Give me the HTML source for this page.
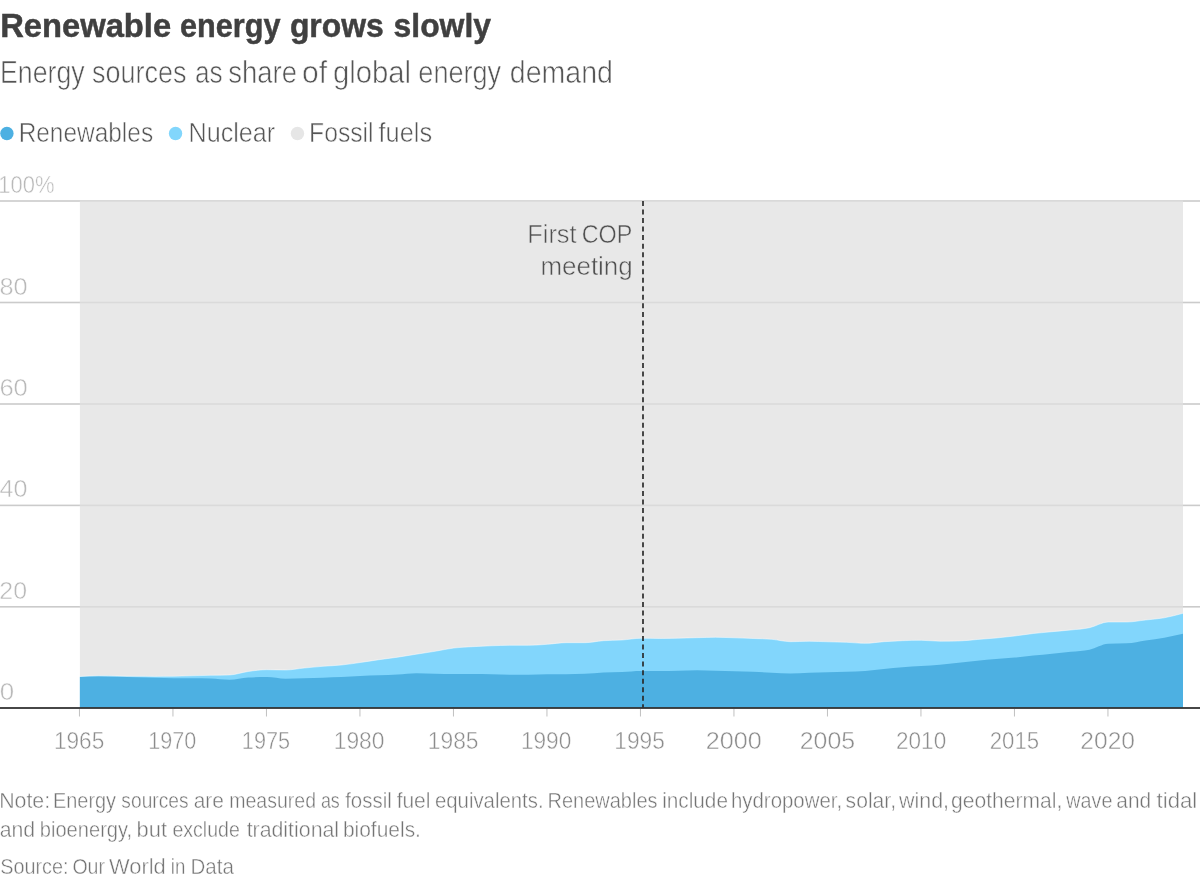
<!DOCTYPE html>
<html><head><meta charset="utf-8"><title>Renewable energy grows slowly</title>
<style>
html,body{margin:0;padding:0;background:#fff;}
body{width:1200px;height:879px;position:relative;overflow:hidden;}
svg{position:absolute;left:0;top:0;display:block;}
text{font-family:"Liberation Sans",Arial,sans-serif;}
</style></head><body>
<svg width="1200" height="879" viewBox="0 0 1200 879">
<g id="chart">
<rect x="0" y="200.2" width="1200" height="1.6" fill="#cbcbcb"/><rect x="0" y="301.7" width="1200" height="1.6" fill="#cbcbcb"/><rect x="0" y="403.2" width="1200" height="1.6" fill="#cbcbcb"/><rect x="0" y="504.6" width="1200" height="1.6" fill="#cbcbcb"/><rect x="0" y="606.0" width="1200" height="1.6" fill="#cbcbcb"/>
<rect x="79.9" y="201.0" width="1103.1" height="507.0" fill="#e8e8e8"/>
<rect x="79.9" y="200.2" width="1103.1" height="1.6" fill="#dadada"/><rect x="79.9" y="301.7" width="1103.1" height="1.6" fill="#dadada"/><rect x="79.9" y="403.2" width="1103.1" height="1.6" fill="#dadada"/><rect x="79.9" y="504.6" width="1103.1" height="1.6" fill="#dadada"/><rect x="79.9" y="606.0" width="1103.1" height="1.6" fill="#dadada"/>
<path d="M79.9,676.50C86.1,676.15 92.4,675.80 98.6,675.80C104.8,675.80 111.1,675.92 117.3,676.00C123.5,676.08 129.8,676.23 136.0,676.30C142.2,676.37 148.5,676.40 154.7,676.40C160.9,676.40 167.2,676.37 173.4,676.30C179.6,676.23 185.8,675.97 192.1,675.80C198.3,675.63 204.5,675.43 210.8,675.30C217.0,675.17 223.2,675.20 229.5,675.00C235.7,674.80 241.9,672.38 248.2,671.50C254.4,670.62 260.6,669.70 266.9,669.70C273.1,669.70 279.3,670.00 285.6,670.00C291.8,670.00 298.0,668.62 304.3,668.00C310.5,667.38 316.7,666.80 323.0,666.30C329.2,665.80 335.4,665.63 341.7,665.00C347.9,664.37 354.1,663.38 360.3,662.50C366.6,661.62 372.8,660.58 379.0,659.70C385.3,658.82 391.5,658.12 397.7,657.20C404.0,656.28 410.2,655.18 416.4,654.20C422.7,653.22 428.9,652.33 435.1,651.30C441.4,650.27 447.6,648.77 453.8,648.00C460.1,647.23 466.3,647.07 472.5,646.70C478.8,646.33 485.0,646.03 491.2,645.80C497.5,645.57 503.7,645.30 509.9,645.30C516.2,645.30 522.4,645.30 528.6,645.30C534.9,645.30 541.1,644.73 547.3,644.30C553.5,643.87 559.8,642.70 566.0,642.70C572.2,642.70 578.5,642.70 584.7,642.70C590.9,642.70 597.2,641.15 603.4,640.70C609.6,640.25 615.9,640.40 622.1,640.00C628.3,639.60 634.6,638.30 640.8,638.30C647.0,638.30 653.3,638.50 659.5,638.50C665.7,638.50 672.0,638.33 678.2,638.20C684.4,638.07 690.7,637.85 696.9,637.70C703.1,637.55 709.4,637.30 715.6,637.30C721.8,637.30 728.0,637.60 734.3,637.80C740.5,638.00 746.7,638.25 753.0,638.50C759.2,638.75 765.4,638.77 771.7,639.30C777.9,639.83 784.1,641.70 790.4,641.70C796.6,641.70 802.8,641.30 809.1,641.30C815.3,641.30 821.5,641.63 827.8,641.80C834.0,641.97 840.2,642.05 846.5,642.30C852.7,642.55 858.9,643.30 865.2,643.30C871.4,643.30 877.6,642.13 883.9,641.70C890.1,641.27 896.3,640.93 902.6,640.70C908.8,640.47 915.0,640.30 921.2,640.30C927.5,640.30 933.7,641.20 939.9,641.20C946.2,641.20 952.4,641.13 958.6,641.00C964.9,640.87 971.1,640.00 977.3,639.50C983.6,639.00 989.8,638.58 996.0,638.00C1002.3,637.42 1008.5,636.75 1014.7,636.00C1021.0,635.25 1027.2,634.22 1033.4,633.50C1039.7,632.78 1045.9,632.28 1052.1,631.70C1058.4,631.12 1064.6,630.67 1070.8,630.00C1077.1,629.33 1083.3,629.03 1089.5,627.70C1095.7,626.37 1102.0,622.00 1108.2,622.00C1114.4,622.00 1120.7,622.00 1126.9,622.00C1133.1,622.00 1139.4,620.70 1145.6,620.00C1151.8,619.30 1158.1,618.92 1164.3,617.80C1170.5,616.68 1176.8,614.99 1183.0,613.30L1183.0,708.0L79.9,708.0Z" fill="#82d6fc"/>
<path d="M79.9,677.00C86.1,676.65 92.4,676.30 98.6,676.30C104.8,676.30 111.1,676.63 117.3,676.80C123.5,676.97 129.8,677.13 136.0,677.30C142.2,677.47 148.5,677.63 154.7,677.80C160.9,677.97 167.2,678.30 173.4,678.30C179.6,678.30 185.8,678.30 192.1,678.30C198.3,678.30 204.5,678.40 210.8,678.60C217.0,678.80 223.2,679.70 229.5,679.70C235.7,679.70 241.9,677.83 248.2,677.50C254.4,677.17 260.6,677.00 266.9,677.00C273.1,677.00 279.3,678.70 285.6,678.70C291.8,678.70 298.0,678.47 304.3,678.30C310.5,678.13 316.7,677.92 323.0,677.70C329.2,677.48 335.4,677.28 341.7,677.00C347.9,676.72 354.1,676.28 360.3,676.00C366.6,675.72 372.8,675.55 379.0,675.30C385.3,675.05 391.5,674.83 397.7,674.50C404.0,674.17 410.2,673.30 416.4,673.30C422.7,673.30 428.9,673.58 435.1,673.70C441.4,673.82 447.6,674.00 453.8,674.00C460.1,674.00 466.3,674.00 472.5,674.00C478.8,674.00 485.0,674.18 491.2,674.30C497.5,674.42 503.7,674.63 509.9,674.70C516.2,674.77 522.4,674.80 528.6,674.80C534.9,674.80 541.1,674.37 547.3,674.30C553.5,674.23 559.8,674.27 566.0,674.20C572.2,674.13 578.5,674.07 584.7,673.80C590.9,673.53 597.2,672.80 603.4,672.50C609.6,672.20 615.9,672.25 622.1,672.00C628.3,671.75 634.6,671.00 640.8,671.00C647.0,671.00 653.3,671.00 659.5,671.00C665.7,671.00 672.0,670.83 678.2,670.70C684.4,670.57 690.7,670.20 696.9,670.20C703.1,670.20 709.4,670.53 715.6,670.70C721.8,670.87 728.0,671.02 734.3,671.20C740.5,671.38 746.7,671.55 753.0,671.80C759.2,672.05 765.4,672.42 771.7,672.70C777.9,672.98 784.1,673.50 790.4,673.50C796.6,673.50 802.8,673.00 809.1,672.80C815.3,672.60 821.5,672.48 827.8,672.30C834.0,672.12 840.2,671.92 846.5,671.70C852.7,671.48 858.9,671.45 865.2,671.00C871.4,670.55 877.6,669.62 883.9,669.00C890.1,668.38 896.3,667.80 902.6,667.30C908.8,666.80 915.0,666.43 921.2,666.00C927.5,665.57 933.7,665.25 939.9,664.70C946.2,664.15 952.4,663.37 958.6,662.70C964.9,662.03 971.1,661.32 977.3,660.70C983.6,660.08 989.8,659.53 996.0,659.00C1002.3,658.47 1008.5,658.08 1014.7,657.50C1021.0,656.92 1027.2,656.13 1033.4,655.50C1039.7,654.87 1045.9,654.32 1052.1,653.70C1058.4,653.08 1064.6,652.47 1070.8,651.80C1077.1,651.13 1083.3,651.05 1089.5,649.70C1095.7,648.35 1102.0,643.97 1108.2,643.70C1114.4,643.43 1120.7,643.57 1126.9,643.30C1133.1,643.03 1139.4,641.43 1145.6,640.50C1151.8,639.57 1158.1,638.82 1164.3,637.70C1170.5,636.58 1176.8,635.19 1183.0,633.80L1183.0,708.0L79.9,708.0Z" fill="#4db0e2"/>
<path d="M79.9,676.50C86.1,676.15 92.4,675.80 98.6,675.80C104.8,675.80 111.1,675.92 117.3,676.00C123.5,676.08 129.8,676.23 136.0,676.30C142.2,676.37 148.5,676.40 154.7,676.40C160.9,676.40 167.2,676.37 173.4,676.30C179.6,676.23 185.8,675.97 192.1,675.80C198.3,675.63 204.5,675.43 210.8,675.30C217.0,675.17 223.2,675.20 229.5,675.00C235.7,674.80 241.9,672.38 248.2,671.50C254.4,670.62 260.6,669.70 266.9,669.70C273.1,669.70 279.3,670.00 285.6,670.00C291.8,670.00 298.0,668.62 304.3,668.00C310.5,667.38 316.7,666.80 323.0,666.30C329.2,665.80 335.4,665.63 341.7,665.00C347.9,664.37 354.1,663.38 360.3,662.50C366.6,661.62 372.8,660.58 379.0,659.70C385.3,658.82 391.5,658.12 397.7,657.20C404.0,656.28 410.2,655.18 416.4,654.20C422.7,653.22 428.9,652.33 435.1,651.30C441.4,650.27 447.6,648.77 453.8,648.00C460.1,647.23 466.3,647.07 472.5,646.70C478.8,646.33 485.0,646.03 491.2,645.80C497.5,645.57 503.7,645.30 509.9,645.30C516.2,645.30 522.4,645.30 528.6,645.30C534.9,645.30 541.1,644.73 547.3,644.30C553.5,643.87 559.8,642.70 566.0,642.70C572.2,642.70 578.5,642.70 584.7,642.70C590.9,642.70 597.2,641.15 603.4,640.70C609.6,640.25 615.9,640.40 622.1,640.00C628.3,639.60 634.6,638.30 640.8,638.30C647.0,638.30 653.3,638.50 659.5,638.50C665.7,638.50 672.0,638.33 678.2,638.20C684.4,638.07 690.7,637.85 696.9,637.70C703.1,637.55 709.4,637.30 715.6,637.30C721.8,637.30 728.0,637.60 734.3,637.80C740.5,638.00 746.7,638.25 753.0,638.50C759.2,638.75 765.4,638.77 771.7,639.30C777.9,639.83 784.1,641.70 790.4,641.70C796.6,641.70 802.8,641.30 809.1,641.30C815.3,641.30 821.5,641.63 827.8,641.80C834.0,641.97 840.2,642.05 846.5,642.30C852.7,642.55 858.9,643.30 865.2,643.30C871.4,643.30 877.6,642.13 883.9,641.70C890.1,641.27 896.3,640.93 902.6,640.70C908.8,640.47 915.0,640.30 921.2,640.30C927.5,640.30 933.7,641.20 939.9,641.20C946.2,641.20 952.4,641.13 958.6,641.00C964.9,640.87 971.1,640.00 977.3,639.50C983.6,639.00 989.8,638.58 996.0,638.00C1002.3,637.42 1008.5,636.75 1014.7,636.00C1021.0,635.25 1027.2,634.22 1033.4,633.50C1039.7,632.78 1045.9,632.28 1052.1,631.70C1058.4,631.12 1064.6,630.67 1070.8,630.00C1077.1,629.33 1083.3,629.03 1089.5,627.70C1095.7,626.37 1102.0,622.00 1108.2,622.00C1114.4,622.00 1120.7,622.00 1126.9,622.00C1133.1,622.00 1139.4,620.70 1145.6,620.00C1151.8,619.30 1158.1,618.92 1164.3,617.80C1170.5,616.68 1176.8,614.99 1183.0,613.30" fill="none" stroke="#fff" stroke-opacity="0.45" stroke-width="1"/>
<line x1="643" y1="201" x2="643" y2="708" stroke="#2b2b2b" stroke-width="1.7" stroke-dasharray="5 3.53"/>
<rect x="0" y="707.1" width="1200" height="1.8" fill="#333"/>
<rect x="78.95" y="709" width="1" height="7.5" fill="#c0c0c0"/><rect x="172.45" y="709" width="1" height="7.5" fill="#c0c0c0"/><rect x="265.95" y="709" width="1" height="7.5" fill="#c0c0c0"/><rect x="359.45" y="709" width="1" height="7.5" fill="#c0c0c0"/><rect x="452.95" y="709" width="1" height="7.5" fill="#c0c0c0"/><rect x="546.45" y="709" width="1" height="7.5" fill="#c0c0c0"/><rect x="639.95" y="709" width="1" height="7.5" fill="#c0c0c0"/><rect x="733.45" y="709" width="1" height="7.5" fill="#c0c0c0"/><rect x="826.95" y="709" width="1" height="7.5" fill="#c0c0c0"/><rect x="920.45" y="709" width="1" height="7.5" fill="#c0c0c0"/><rect x="1013.95" y="709" width="1" height="7.5" fill="#c0c0c0"/><rect x="1107.45" y="709" width="1" height="7.5" fill="#c0c0c0"/>
<circle cx="6.9" cy="133.5" r="6.7" fill="#4db0e2"/>
<circle cx="175.55" cy="133.5" r="6.7" fill="#82d6fc"/>
<circle cx="297.45" cy="133.5" r="6.7" fill="#e6e6e6"/>
</g>
<g id="labels">
<text id="title" y="37.00" font-size="33.6" font-weight="bold" fill="#404040" stroke="#404040" stroke-width="0.5"><tspan id="title_0" x="0.15" textLength="171.00" lengthAdjust="spacingAndGlyphs">Renewable</tspan> <tspan id="title_1" x="180.08" textLength="100.44" lengthAdjust="spacingAndGlyphs">energy</tspan> <tspan id="title_2" x="289.88" textLength="93.87" lengthAdjust="spacingAndGlyphs">grows</tspan> <tspan id="title_3" x="393.59" textLength="97.40" lengthAdjust="spacingAndGlyphs">slowly</tspan></text>
<text id="sub" y="83.35" font-size="31" font-weight="normal" fill="#555555" stroke="#fff" stroke-width="0.62"><tspan id="sub_0" x="0.02" textLength="84.57" lengthAdjust="spacingAndGlyphs">Energy</tspan> <tspan id="sub_1" x="92.11" textLength="94.33" lengthAdjust="spacingAndGlyphs">sources</tspan> <tspan id="sub_2" x="194.95" textLength="27.65" lengthAdjust="spacingAndGlyphs">as</tspan> <tspan id="sub_3" x="228.35" textLength="68.70" lengthAdjust="spacingAndGlyphs">share</tspan> <tspan id="sub_4" x="302.06" textLength="25.01" lengthAdjust="spacingAndGlyphs">of</tspan> <tspan id="sub_5" x="332.88" textLength="78.21" lengthAdjust="spacingAndGlyphs">global</tspan> <tspan id="sub_6" x="418.37" textLength="82.81" lengthAdjust="spacingAndGlyphs">energy</tspan> <tspan id="sub_7" x="509.80" textLength="103.13" lengthAdjust="spacingAndGlyphs">demand</tspan></text>
<text id="l1" y="142.10" font-size="26.8" font-weight="normal" fill="#555555" stroke="#fff" stroke-width="0.54"><tspan id="l1_0" x="18.64" textLength="134.48" lengthAdjust="spacingAndGlyphs">Renewables</tspan></text>
<text id="l2" y="142.10" font-size="26.8" font-weight="normal" fill="#555555" stroke="#fff" stroke-width="0.54"><tspan id="l2_0" x="188.46" textLength="86.74" lengthAdjust="spacingAndGlyphs">Nuclear</tspan></text>
<text id="l3" y="142.10" font-size="26.8" font-weight="normal" fill="#555555" stroke="#fff" stroke-width="0.54"><tspan id="l3_0" x="309.07" textLength="64.51" lengthAdjust="spacingAndGlyphs">Fossil</tspan> <tspan id="l3_1" x="378.50" textLength="53.56" lengthAdjust="spacingAndGlyphs">fuels</tspan></text>
<text id="y100" y="193.00" font-size="23.7" font-weight="normal" fill="#b9b9b9" stroke="#fff" stroke-width="0.47"><tspan id="y100_0" x="-1.70" textLength="56.24" lengthAdjust="spacingAndGlyphs">100%</tspan></text>
<text id="y80" y="294.50" font-size="23.7" font-weight="normal" fill="#b9b9b9" stroke="#fff" stroke-width="0.47"><tspan id="y80_0" x="-0.49" textLength="28.18" lengthAdjust="spacingAndGlyphs">80</tspan></text>
<text id="y60" y="396.00" font-size="23.7" font-weight="normal" fill="#b9b9b9" stroke="#fff" stroke-width="0.47"><tspan id="y60_0" x="-0.64" textLength="28.43" lengthAdjust="spacingAndGlyphs">60</tspan></text>
<text id="y40" y="497.40" font-size="23.7" font-weight="normal" fill="#b9b9b9" stroke="#fff" stroke-width="0.47"><tspan id="y40_0" x="-0.45" textLength="27.95" lengthAdjust="spacingAndGlyphs">40</tspan></text>
<text id="y20" y="598.80" font-size="23.7" font-weight="normal" fill="#b9b9b9" stroke="#fff" stroke-width="0.47"><tspan id="y20_0" x="-0.74" textLength="27.76" lengthAdjust="spacingAndGlyphs">20</tspan></text>
<text id="y0" y="700.05" font-size="23.7" font-weight="normal" fill="#b9b9b9" stroke="#fff" stroke-width="0.47"><tspan id="y0_0" x="-0.30" textLength="14.43" lengthAdjust="spacingAndGlyphs">0</tspan></text>
<text id="x1965" y="749.25" font-size="23.6" font-weight="normal" fill="#8c8c8c" stroke="#fff" stroke-width="0.47"><tspan id="x1965_0" x="53.90" textLength="50.42" lengthAdjust="spacingAndGlyphs">1965</tspan></text>
<text id="x1970" y="749.25" font-size="23.6" font-weight="normal" fill="#8c8c8c" stroke="#fff" stroke-width="0.47"><tspan id="x1970_0" x="148.26" textLength="47.97" lengthAdjust="spacingAndGlyphs">1970</tspan></text>
<text id="x1975" y="749.25" font-size="23.6" font-weight="normal" fill="#8c8c8c" stroke="#fff" stroke-width="0.47"><tspan id="x1975_0" x="241.86" textLength="48.26" lengthAdjust="spacingAndGlyphs">1975</tspan></text>
<text id="x1980" y="749.25" font-size="23.6" font-weight="normal" fill="#8c8c8c" stroke="#fff" stroke-width="0.47"><tspan id="x1980_0" x="333.76" textLength="50.75" lengthAdjust="spacingAndGlyphs">1980</tspan></text>
<text id="x1985" y="749.25" font-size="23.6" font-weight="normal" fill="#8c8c8c" stroke="#fff" stroke-width="0.47"><tspan id="x1985_0" x="427.81" textLength="50.71" lengthAdjust="spacingAndGlyphs">1985</tspan></text>
<text id="x1990" y="749.25" font-size="23.6" font-weight="normal" fill="#8c8c8c" stroke="#fff" stroke-width="0.47"><tspan id="x1990_0" x="520.89" textLength="50.37" lengthAdjust="spacingAndGlyphs">1990</tspan></text>
<text id="x1995" y="749.25" font-size="23.6" font-weight="normal" fill="#8c8c8c" stroke="#fff" stroke-width="0.47"><tspan id="x1995_0" x="614.35" textLength="50.44" lengthAdjust="spacingAndGlyphs">1995</tspan></text>
<text id="x2000" y="749.25" font-size="23.6" font-weight="normal" fill="#8c8c8c" stroke="#fff" stroke-width="0.47"><tspan id="x2000_0" x="705.81" textLength="56.04" lengthAdjust="spacingAndGlyphs">2000</tspan></text>
<text id="x2005" y="749.25" font-size="23.6" font-weight="normal" fill="#8c8c8c" stroke="#fff" stroke-width="0.47"><tspan id="x2005_0" x="799.78" textLength="55.37" lengthAdjust="spacingAndGlyphs">2005</tspan></text>
<text id="x2010" y="749.25" font-size="23.6" font-weight="normal" fill="#8c8c8c" stroke="#fff" stroke-width="0.47"><tspan id="x2010_0" x="896.06" textLength="50.14" lengthAdjust="spacingAndGlyphs">2010</tspan></text>
<text id="x2015" y="749.25" font-size="23.6" font-weight="normal" fill="#8c8c8c" stroke="#fff" stroke-width="0.47"><tspan id="x2015_0" x="989.73" textLength="49.44" lengthAdjust="spacingAndGlyphs">2015</tspan></text>
<text id="x2020" y="749.25" font-size="23.6" font-weight="normal" fill="#8c8c8c" stroke="#fff" stroke-width="0.47"><tspan id="x2020_0" x="1080.34" textLength="54.70" lengthAdjust="spacingAndGlyphs">2020</tspan></text>
<text id="a1" y="243.00" font-size="26.5" font-weight="normal" fill="#505050" stroke="#e8e8e8" stroke-width="0.53"><tspan id="a1_0" x="527.31" textLength="49.29" lengthAdjust="spacingAndGlyphs">First</tspan> <tspan id="a1_1" x="581.75" textLength="50.60" lengthAdjust="spacingAndGlyphs">COP</tspan></text>
<text id="a2" y="275.00" font-size="26.5" font-weight="normal" fill="#505050" stroke="#e8e8e8" stroke-width="0.53"><tspan id="a2_0" x="540.38" textLength="92.36" lengthAdjust="spacingAndGlyphs">meeting</tspan></text>
<text id="n1" y="808.20" font-size="22" font-weight="normal" fill="#747474" stroke="#fff" stroke-width="0.44"><tspan id="n1_0" x="-0.85" textLength="50.98" lengthAdjust="spacingAndGlyphs">Note:</tspan> <tspan id="n1_1" x="52.96" textLength="63.10" lengthAdjust="spacingAndGlyphs">Energy</tspan> <tspan id="n1_2" x="121.36" textLength="67.21" lengthAdjust="spacingAndGlyphs">sources</tspan> <tspan id="n1_3" x="193.75" textLength="30.21" lengthAdjust="spacingAndGlyphs">are</tspan> <tspan id="n1_4" x="229.16" textLength="86.87" lengthAdjust="spacingAndGlyphs">measured</tspan> <tspan id="n1_5" x="320.88" textLength="18.95" lengthAdjust="spacingAndGlyphs">as</tspan> <tspan id="n1_6" x="345.15" textLength="46.57" lengthAdjust="spacingAndGlyphs">fossil</tspan> <tspan id="n1_7" x="396.64" textLength="33.84" lengthAdjust="spacingAndGlyphs">fuel</tspan> <tspan id="n1_8" x="434.90" textLength="108.73" lengthAdjust="spacingAndGlyphs">equivalents.</tspan> <tspan id="n1_9" x="547.55" textLength="109.96" lengthAdjust="spacingAndGlyphs">Renewables</tspan> <tspan id="n1_10" x="662.13" textLength="65.82" lengthAdjust="spacingAndGlyphs">include</tspan> <tspan id="n1_11" x="730.96" textLength="111.11" lengthAdjust="spacingAndGlyphs">hydropower,</tspan> <tspan id="n1_12" x="845.62" textLength="50.42" lengthAdjust="spacingAndGlyphs">solar,</tspan> <tspan id="n1_13" x="898.92" textLength="50.13" lengthAdjust="spacingAndGlyphs">wind,</tspan> <tspan id="n1_14" x="951.09" textLength="111.25" lengthAdjust="spacingAndGlyphs">geothermal,</tspan> <tspan id="n1_15" x="1066.36" textLength="45.98" lengthAdjust="spacingAndGlyphs">wave</tspan> <tspan id="n1_16" x="1116.37" textLength="34.81" lengthAdjust="spacingAndGlyphs">and</tspan> <tspan id="n1_17" x="1156.61" textLength="40.56" lengthAdjust="spacingAndGlyphs">tidal</tspan></text>
<text id="n2" y="836.85" font-size="22" font-weight="normal" fill="#747474" stroke="#fff" stroke-width="0.44"><tspan id="n2_0" x="-0.31" textLength="35.50" lengthAdjust="spacingAndGlyphs">and</tspan> <tspan id="n2_1" x="39.81" textLength="92.33" lengthAdjust="spacingAndGlyphs">bioenergy,</tspan> <tspan id="n2_2" x="136.58" textLength="30.50" lengthAdjust="spacingAndGlyphs">but</tspan> <tspan id="n2_3" x="172.45" textLength="67.42" lengthAdjust="spacingAndGlyphs">exclude</tspan> <tspan id="n2_4" x="246.63" textLength="92.47" lengthAdjust="spacingAndGlyphs">traditional</tspan> <tspan id="n2_5" x="342.91" textLength="78.05" lengthAdjust="spacingAndGlyphs">biofuels.</tspan></text>
<text id="n3" y="874.00" font-size="22" font-weight="normal" fill="#747474" stroke="#fff" stroke-width="0.44"><tspan id="n3_0" x="0.15" textLength="68.44" lengthAdjust="spacingAndGlyphs">Source:</tspan> <tspan id="n3_1" x="72.41" textLength="32.61" lengthAdjust="spacingAndGlyphs">Our</tspan> <tspan id="n3_2" x="108.96" textLength="56.78" lengthAdjust="spacingAndGlyphs">World</tspan> <tspan id="n3_3" x="170.86" textLength="14.55" lengthAdjust="spacingAndGlyphs">in</tspan> <tspan id="n3_4" x="190.50" textLength="43.34" lengthAdjust="spacingAndGlyphs">Data</tspan></text>
</g>
</svg>
</body></html>
